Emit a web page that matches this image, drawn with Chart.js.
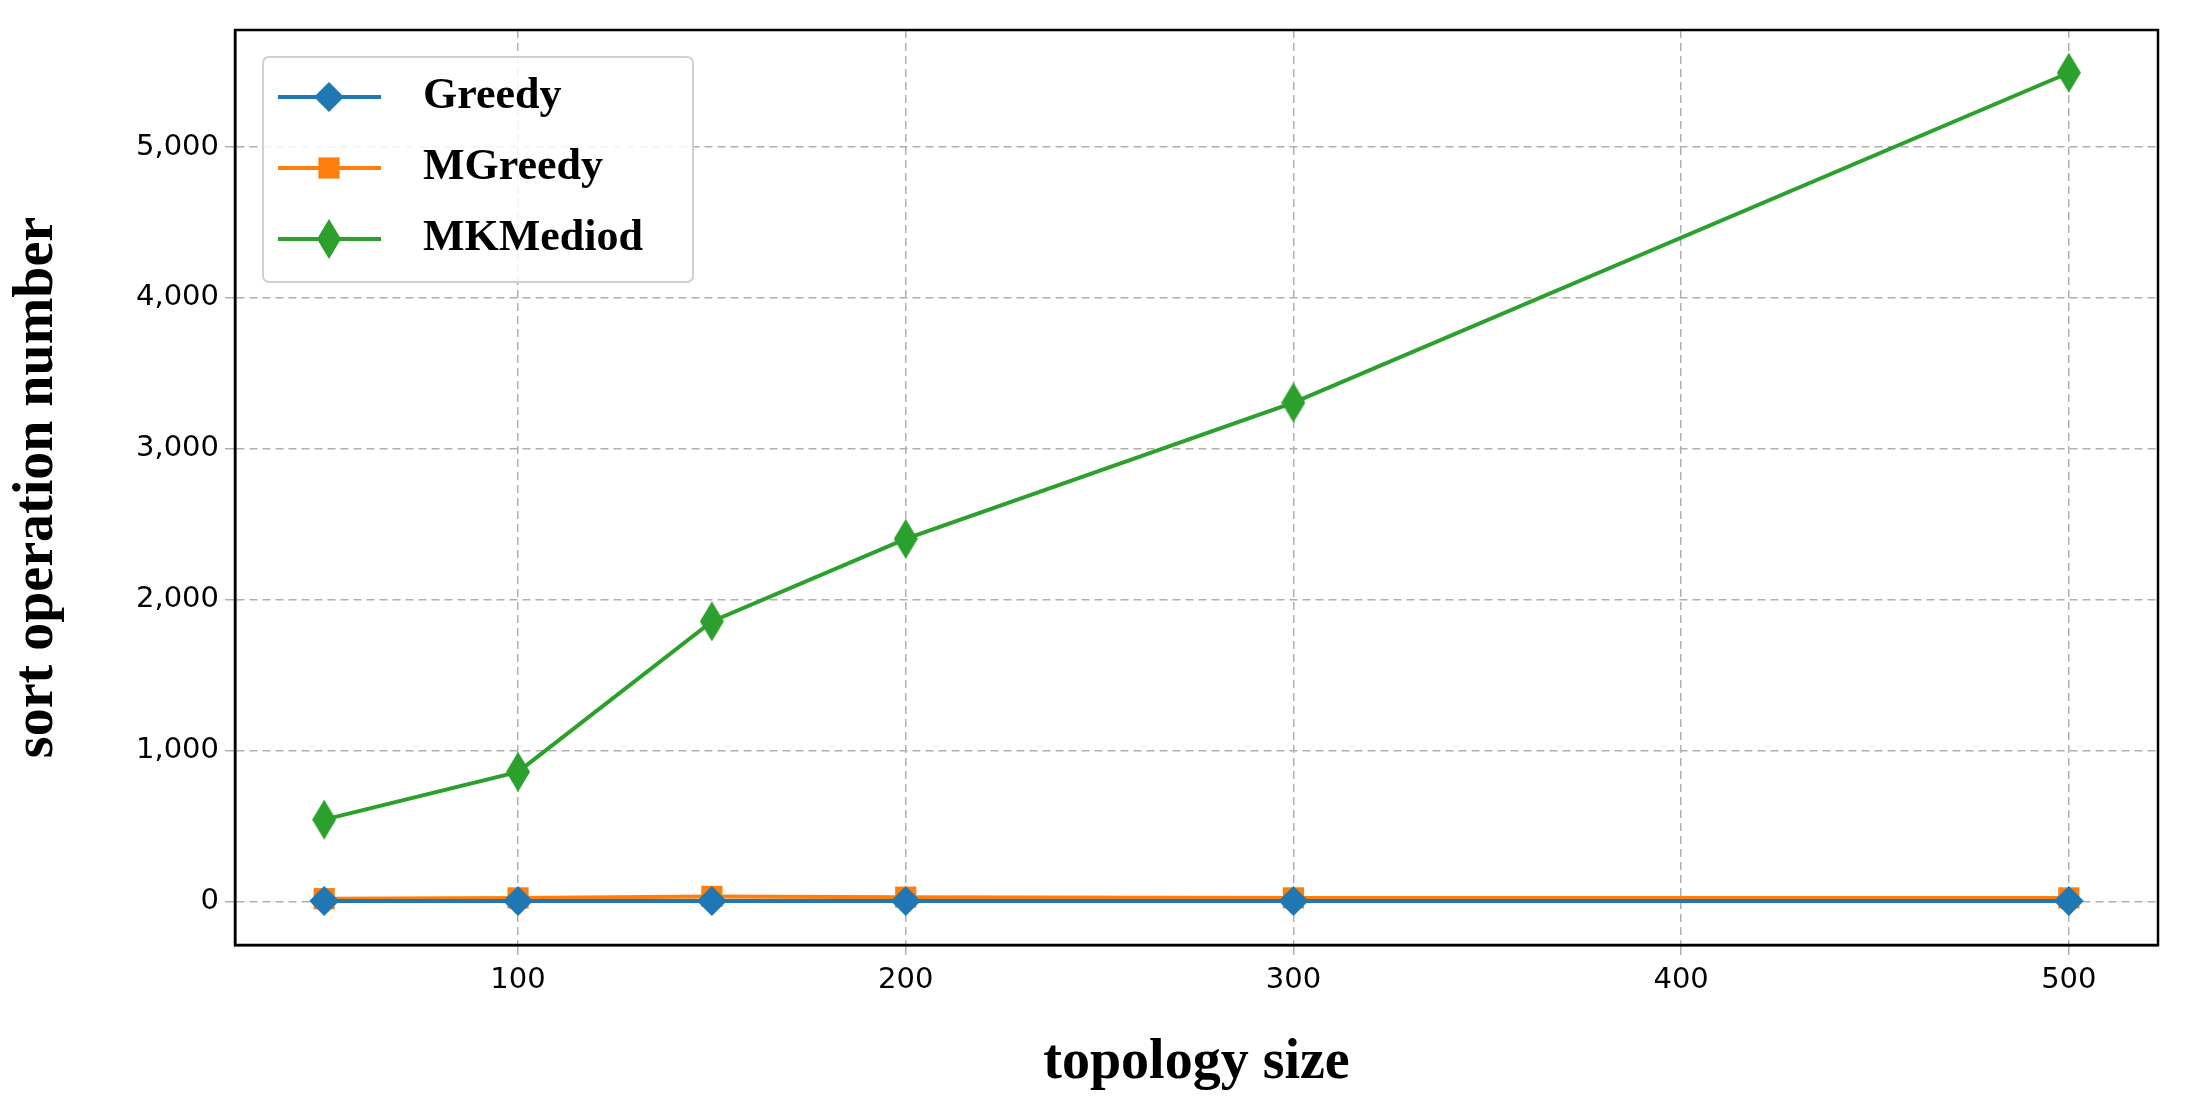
<!DOCTYPE html>
<html>
<head>
<meta charset="utf-8">
<script src="https://cdn.jsdelivr.net/npm/chart.js@4/dist/chart.umd.min.js"></script>
<style>
html, body { margin: 0; padding: 0; background: #fff; }
#wrap { width: 2190px; height: 1101px; }
</style>
</head>
<body>
<div id="wrap"><canvas id="sortChart"></canvas></div>
<script>
// data
const topologySize = [50, 100, 150, 200, 300, 500];
const greedyData = [5, 5, 5, 5, 5, 5];
const mgreedyData = [20, 25, 35, 30, 25, 25];
const mkmediodData = [544, 860, 1857, 2404, 3307, 5492];
const xTicks = [100, 200, 300, 400, 500];
const yTicks = [0, 1000, 2000, 3000, 4000, 5000];

// thin diamond marker like matplotlib 'd'
function thinDiamond(color, w, h) {
    const c = document.createElement("canvas");
    c.width = w; c.height = h;
    const g = c.getContext("2d");
    g.fillStyle = color;
    g.beginPath();
    g.moveTo(w / 2, 0); g.lineTo(w, h / 2); g.lineTo(w / 2, h); g.lineTo(0, h / 2);
    g.closePath();
    g.fill();
    return c;
}

const toXY = (ys) => ys.map((y, i) => ({ x: topologySize[i], y: y }));

// full frame around the plot area
const frame = {
    id: "frame",
    afterDatasetsDraw(chart) {
        const a = chart.chartArea, ctx = chart.ctx;
        ctx.save();
        ctx.strokeStyle = "#000";
        ctx.lineWidth = 2.5;
        ctx.strokeRect(a.left, a.top, a.right - a.left, a.bottom - a.top);
        ctx.restore();
    }
};

// legend with line + marker in a framed box
const lineLegend = {
    id: "lineLegend",
    afterDraw(chart) {
        const ctx = chart.ctx;
        const area = chart.chartArea;
        const x0 = area.left + 28, y0 = area.top + 27, w = 430, h = 225;
        ctx.save();
        ctx.fillStyle = "rgba(255,255,255,0.85)";
        ctx.strokeStyle = "#d0d0d0";
        ctx.lineWidth = 2;
        ctx.beginPath();
        ctx.roundRect(x0, y0, w, h, 6);
        ctx.fill();
        ctx.stroke();
        ctx.font = "bold 44px 'Liberation Serif', 'Times New Roman', serif";
        ctx.textBaseline = "middle";
        chart.data.datasets.forEach((ds, i) => {
            const cy = y0 + 40 + i * 71;
            ctx.strokeStyle = ds.borderColor;
            ctx.lineWidth = 4;
            ctx.beginPath();
            ctx.moveTo(x0 + 15, cy); ctx.lineTo(x0 + 118, cy);
            ctx.stroke();
            const px = x0 + 66;
            if (ds.pointStyle instanceof HTMLCanvasElement) {
                ctx.drawImage(ds.pointStyle, px - ds.pointStyle.width / 2, cy - ds.pointStyle.height / 2);
            } else {
                ctx.fillStyle = ds.backgroundColor;
                Chart.helpers.drawPoint(ctx, { pointStyle: ds.pointStyle, radius: ds.pointRadius, borderWidth: 0 }, px, cy);
            }
            ctx.fillStyle = "#000";
            ctx.fillText(ds.label, x0 + 160, cy);
        });
        ctx.restore();
    }
};

const sortChartConfig = {
    type: "line",
    data: {
        datasets: [{
            label: "Greedy",
            data: toXY(greedyData),
            borderColor: "#1f77b4",
            backgroundColor: "#1f77b4",
            borderWidth: 4,
            pointStyle: "rectRot",
            pointRadius: 15,
            pointBorderWidth: 0,
        }, {
            label: "MGreedy",
            data: toXY(mgreedyData),
            borderColor: "#ff7f0e",
            backgroundColor: "#ff7f0e",
            borderWidth: 4,
            pointStyle: "rect",
            pointRadius: 15,
            pointBorderWidth: 0,
        }, {
            label: "MKMediod",
            data: toXY(mkmediodData),
            borderColor: "#2ca02c",
            backgroundColor: "#2ca02c",
            borderWidth: 4,
            pointStyle: thinDiamond("#2ca02c", 24, 40),
            pointBorderWidth: 0,
        }],
    },
    options: {
        responsive: true,
        maintainAspectRatio: false,
        animation: false,
        layout: { padding: { top: 30, right: 32, left: 0, bottom: 0 } },
        plugins: { legend: { display: false }, tooltip: { enabled: false } },
        scales: {
            x: {
                type: "linear",
                min: 27, max: 523,
                afterBuildTicks: (s) => { s.ticks = xTicks.map(v => ({ value: v })); },
                afterFit: (s) => { s.height = 156; },
                border: { color: "#000", width: 2.5, dash: [8, 5] },
                grid: { color: "#b0b0b0", tickLength: 10, lineWidth: 1.5 },
                ticks: { color: "#000", font: { size: 29, family: "'DejaVu Sans'" }, padding: 8 },
                title: {
                    display: true, text: "topology size", color: "#000",
                    font: { size: 56, weight: "bold", family: "'Liberation Serif', serif" },
                    padding: { top: 0 },
                },
            },
            y: {
                min: -287, max: 5775,
                afterBuildTicks: (s) => { s.ticks = yTicks.map(v => ({ value: v })); },
                afterFit: (s) => { s.width = 235; },
                border: { color: "#000", width: 2.5, dash: [8, 5] },
                grid: { color: "#b0b0b0", tickLength: 10, lineWidth: 1.5 },
                ticks: {
                    color: "#000", font: { size: 29, family: "'DejaVu Sans'" }, padding: 6,
                    callback: (v) => v.toLocaleString("en-US"),
                },
                title: {
                    display: true, text: "sort operation number", color: "#000",
                    font: { size: 56, weight: "bold", family: "'Liberation Serif', serif" },
                    padding: { bottom: 2 },
                },
            },
        },
    },
    plugins: [frame, lineLegend],
};
const sortChart = new Chart(
    document.getElementById("sortChart"),
    sortChartConfig
);
</script>
</body>
</html>
